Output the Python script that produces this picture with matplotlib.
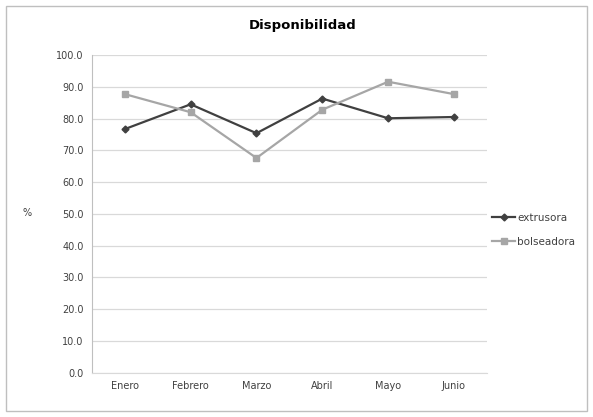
import matplotlib.pyplot as plt
from matplotlib.patches import Rectangle

# Data
months = ['Enero', 'Febrero', 'Marzo', 'Abril', 'Mayo', 'Junio']
extrusora = [76.7, 84.5, 75.4, 86.3, 80.1, 80.5]
bolseadora = [87.7, 82.0, 67.6, 82.8, 91.6, 87.7]
yticks = [0, 10, 20, 30, 40, 50, 60, 70, 80, 90, 100]

fig = plt.figure(figsize=(5.93, 4.17), dpi=100)
ax = fig.add_axes([0.155, 0.106, 0.666, 0.762])

x = range(len(months))
ax.plot(x, extrusora, color='#404040', lw=1.6, marker='D', ms=3.5, label='extrusora')
ax.plot(x, bolseadora, color='#a6a6a6', lw=1.6, marker='s', ms=4.5, label='bolseadora')

ax.set_xlim(-0.5, len(months) - 0.5)
ax.set_ylim(0, 100)
ax.set_yticks(yticks)
ax.set_yticklabels(['%.1f' % v for v in yticks], fontsize=7, color='#404040')
ax.set_xticks(list(x))
ax.set_xticklabels(months, fontsize=7, color='#404040')
ax.tick_params(axis='both', length=0, pad=6)

ax.grid(axis='y', color='#d9d9d9', lw=0.9)
ax.set_axisbelow(True)
for s in ['top', 'right']:
    ax.spines[s].set_visible(False)
ax.spines['left'].set_color('#bfbfbf')
ax.spines['bottom'].set_color('#d9d9d9')

fig.text(27 / 593, 1 - 213 / 417, '%', fontsize=7, color='#404040', ha='center', va='center')
fig.text(303 / 593, 1 - 26 / 417, 'Disponibilidad', fontsize=9.5, fontweight='bold',
         ha='center', va='center')

ax.legend(loc='center left', bbox_to_anchor=(0.99, 0.45), frameon=False,
          fontsize=7.5, handlelength=2.2, labelspacing=1.4, handletextpad=0.2,
          labelcolor='#404040')

# outer chart border
fig.patches.append(Rectangle((6 / 593, 6 / 417), 1 - 12 / 593, 1 - 12 / 417,
                             transform=fig.transFigure, fill=False,
                             edgecolor='#bfbfbf', lw=1))

fig.savefig('out.png', dpi=100)
